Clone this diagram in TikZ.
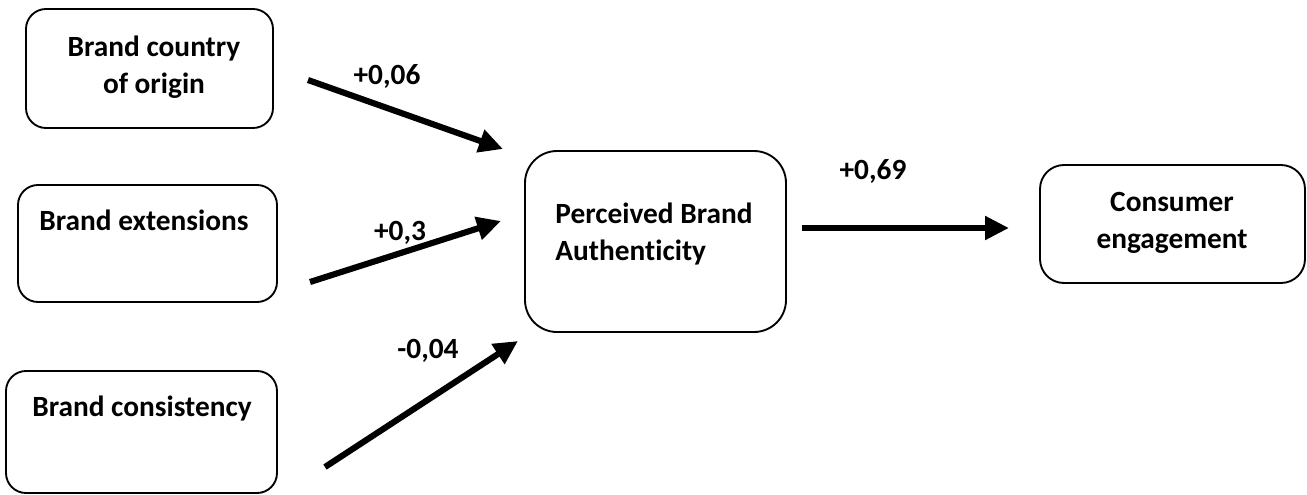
\documentclass[tikz,border=0pt]{standalone}
\usepackage{fontspec}
\setmainfont{Carlito}[Ligatures={NoCommon}]
\usetikzlibrary{arrows.meta}
\begin{document}
\begin{tikzpicture}[x=0.75pt,y=-0.75pt,
  box/.style={draw=black, line width=1.4pt, rounded corners=15pt, inner sep=0pt, outer sep=0pt},
  txt/.style={font=\fontsize{22}{27.5}\selectfont\bfseries, align=center, inner sep=0pt},
  lbl/.style={font=\fontsize{22}{27}\selectfont\bfseries, inner sep=0pt},
  arr/.style={line width=4.6pt, -{Triangle[length=18pt,width=17pt]}}]
\fill[white] (0,0) rectangle (1307,494);
\useasboundingbox (0,0) rectangle (1307,494);

% boxes
\node[box, minimum width=185.25pt, minimum height=89.25pt] (b1) at (149.5,68.5) {};
\node[box, minimum width=194.25pt, minimum height=87.75pt] (b2) at (147.5,243.5) {};
\node[box, minimum width=203.25pt, minimum height=91.5pt] (b3) at (141.5,432) {};
\node[box, rounded corners=24pt, minimum width=195.75pt, minimum height=135.75pt] (b4) at (655.5,241.5) {};
\node[box, rounded corners=18pt, minimum width=198.75pt, minimum height=88.5pt] (b5) at (1172.5,224) {};

% box texts
\node[txt] (t1) at (154,67) {Brand country\\of origin};
\node[txt] (t2) at (144,220) {Brand extensions};
\node[txt] (t3) at (142,409) {Brand consistency};
\node[txt, align=left] (t4) at (654,234) {Perceived Brand\\Authenticity};
\node[txt] (t5) at (1172,223) {Consumer\\engagement};

% arrow end points
\coordinate (a1s) at (308,80);  \coordinate (a1e) at (503,149);
\coordinate (a2s) at (310,282); \coordinate (a2e) at (501,221);
\coordinate (a3s) at (325,467); \coordinate (a3e) at (518,341);
\coordinate (a4s) at (802,228); \coordinate (a4e) at (1009,228);

\draw[arr] (a1s) -- (a1e);
\draw[arr] (a2s) -- (a2e);
\draw[arr] (a3s) -- (a3e);
\draw[arr] (a4s) -- (a4e);

% labels
\node[lbl] (l1) at (387,76) {+0,06};
\node[lbl] (l2) at (400,233) {+0,3};
\node[lbl] (l3) at (428,351) {-0,04};
\node[lbl] (l4) at (873,171) {+0,69};
\end{tikzpicture}
\end{document}
